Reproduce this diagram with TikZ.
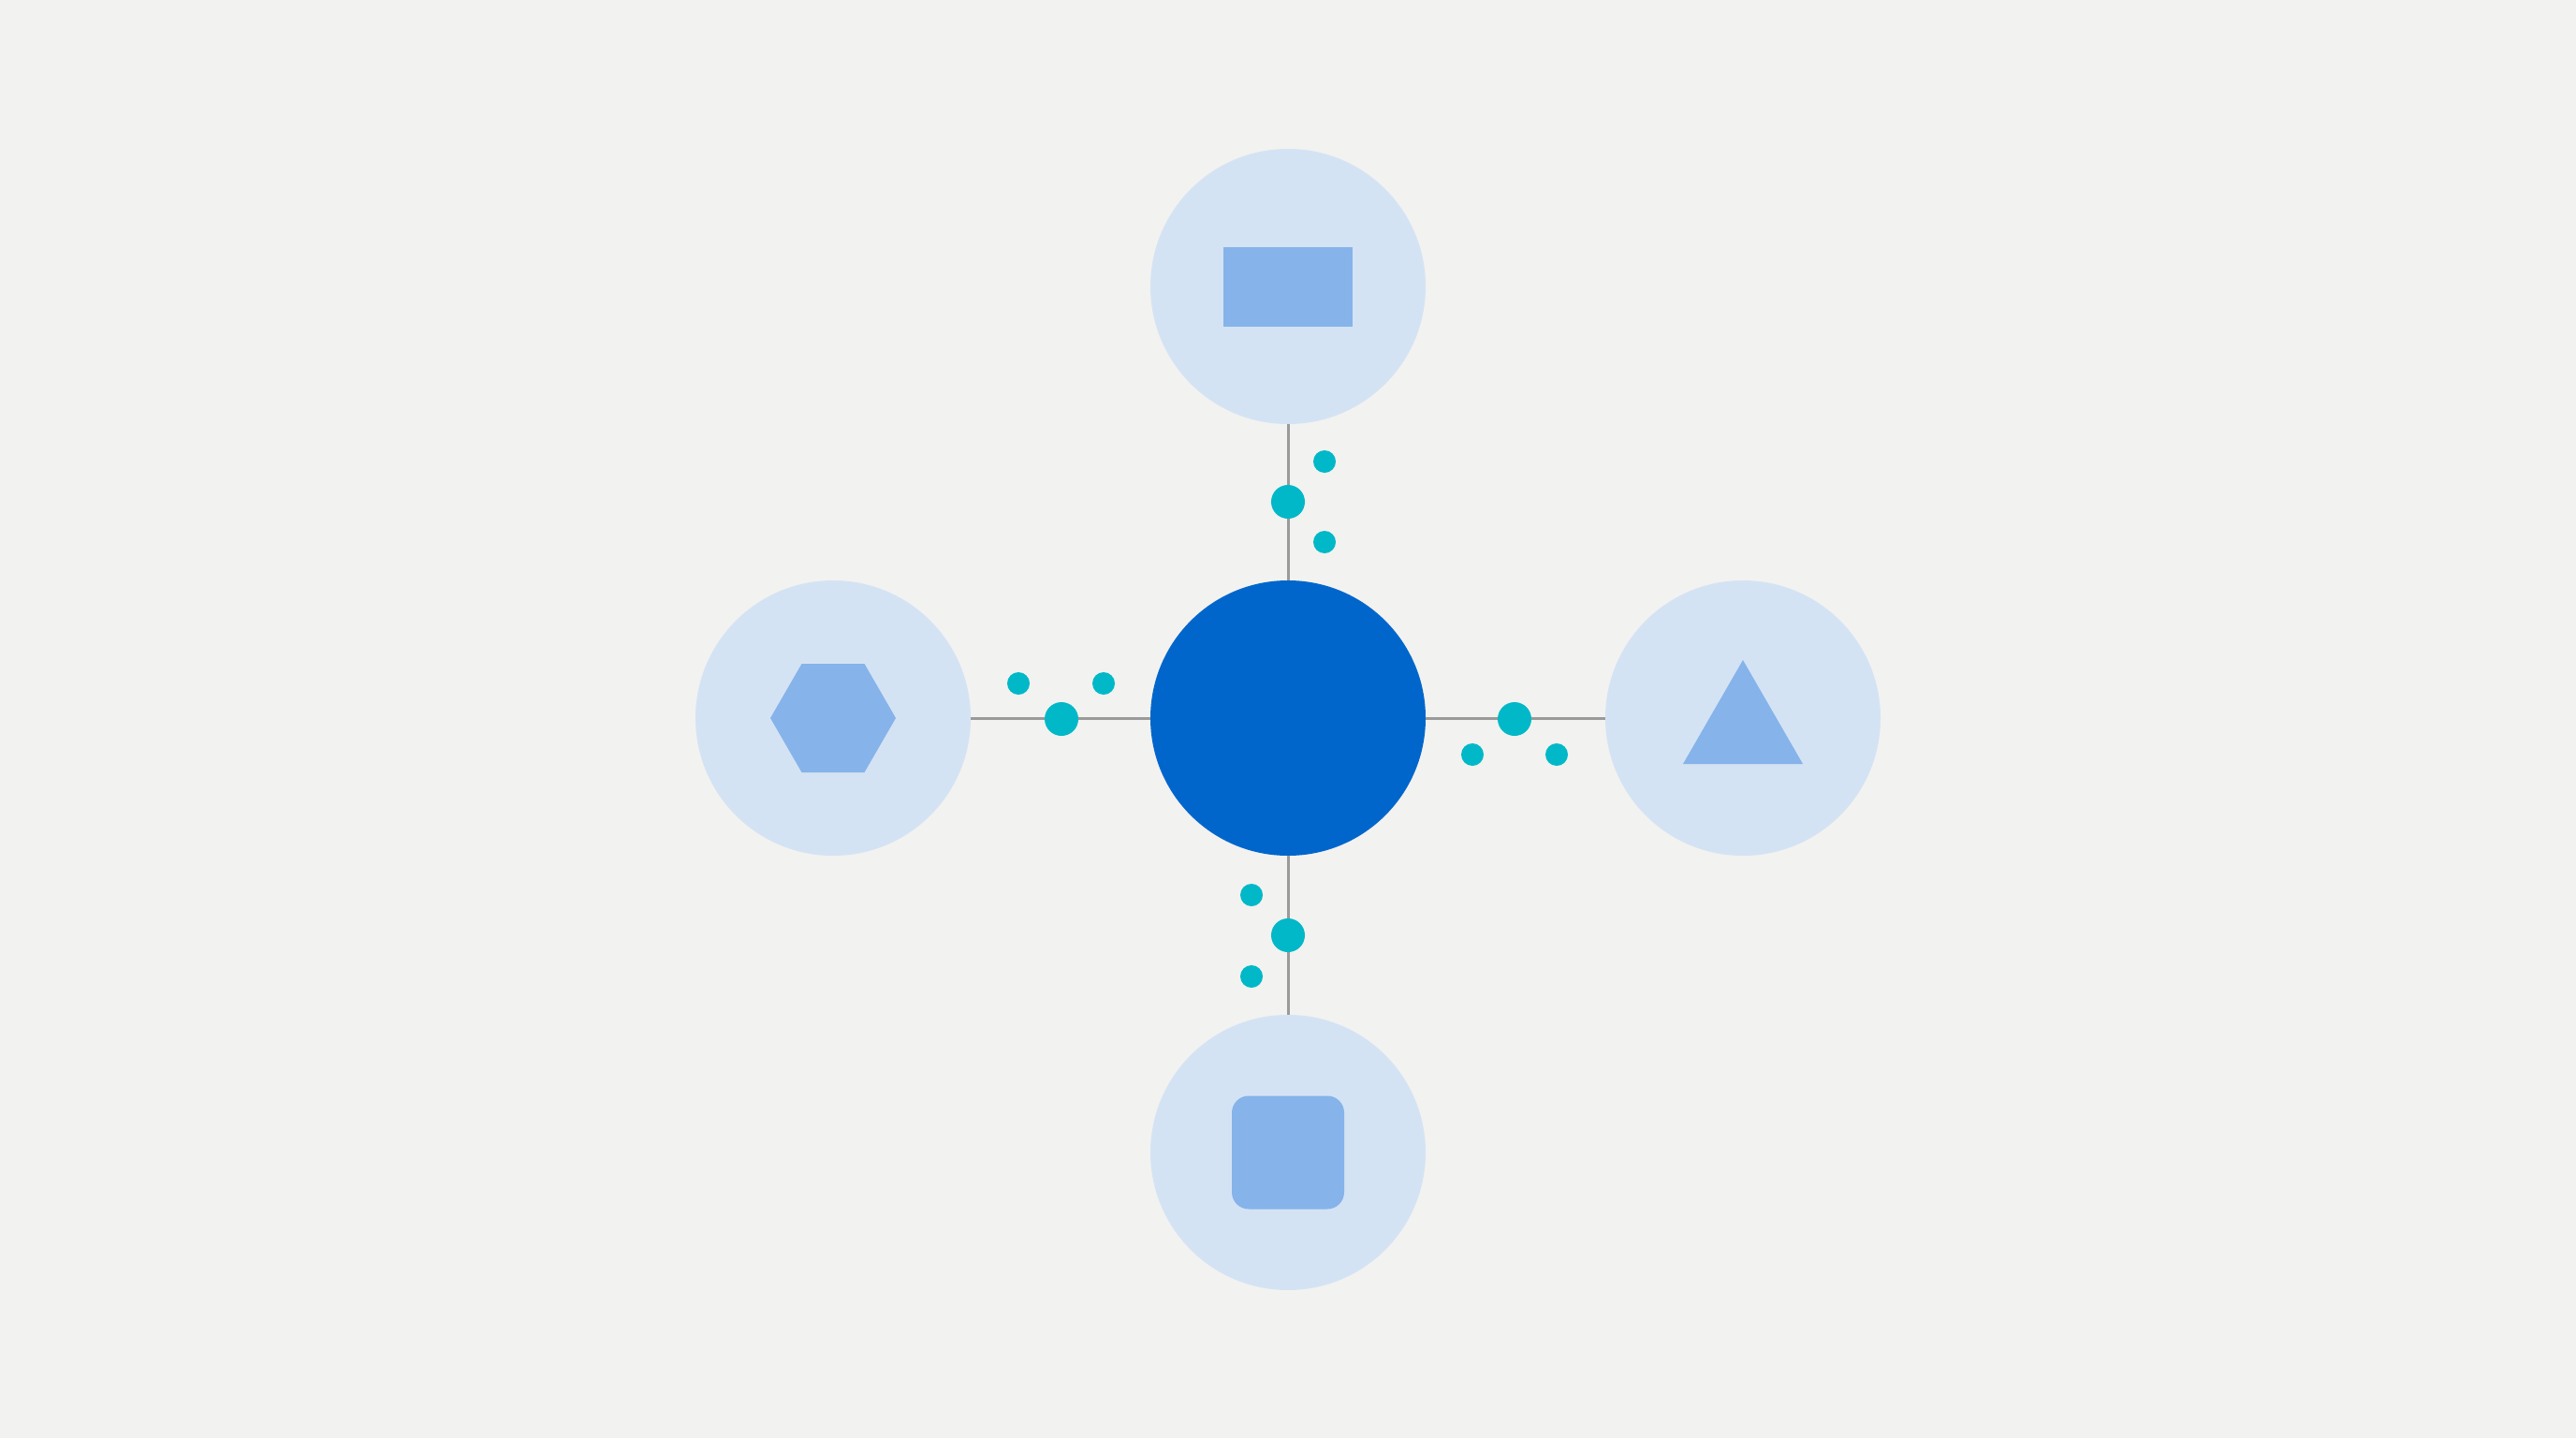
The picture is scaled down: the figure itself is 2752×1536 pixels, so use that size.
\documentclass[tikz,border=0pt]{standalone}
\usetikzlibrary{shapes.geometric}
\definecolor{bg}{HTML}{F2F2F0}
\definecolor{satfill}{HTML}{D4E3F4}
\definecolor{iconfill}{HTML}{86B3EA}
\definecolor{hubfill}{HTML}{0066CC}
\definecolor{dotfill}{HTML}{00B8C8}
\definecolor{linecol}{HTML}{9A9A9A}
\tikzset{
  hub/.style={circle, fill=hubfill, draw=none, minimum size=294pt, inner sep=0pt},
  sat/.style={circle, fill=satfill, draw=none, minimum size=294pt, inner sep=0pt},
  icon/.style={fill=iconfill, draw=none, inner sep=0pt},
  bigdot/.style={circle, fill=dotfill, draw=none, minimum size=36pt, inner sep=0pt},
  smalldot/.style={circle, fill=dotfill, draw=none, minimum size=24pt, inner sep=0pt},
  conn/.style={draw=linecol, line width=3pt}
}
\begin{document}
\begin{tikzpicture}[x=1pt,y=-1pt]
\fill[bg] (0,0) rectangle (2752,1536);
\useasboundingbox (0,0) rectangle (2752,1536);

% hub and satellites
\node[hub] (c) at (1376,767) {};
\node[sat] (t) at (1376,306) {};
\node[sat] (b) at (1376,1231) {};
\node[sat] (l) at (890,767) {};
\node[sat] (r) at (1862,767) {};

% connectors
\draw[conn] (t) -- (c);
\draw[conn] (c) -- (b);
\draw[conn] (l) -- (c);
\draw[conn] (c) -- (r);

% icons
\node[icon, rectangle, minimum width=138pt, minimum height=85pt] (ti) at (1376,306) {};
\node[icon, rectangle, rounded corners=18pt, minimum width=120pt, minimum height=121pt] (bi) at (1376,1231) {};
\fill[iconfill] (957,767) -- (923.5,709) -- (856.5,709) -- (823,767) -- (856.5,825) -- (923.5,825) -- cycle;
\fill[iconfill] (1862,705) -- (1926,816) -- (1798,816) -- cycle;

% dots
\node[bigdot] (dt) at (1376,536) {};
\node[smalldot] (dt1) at (1415,493) {};
\node[smalldot] (dt2) at (1415,579) {};

\node[bigdot] (db) at (1376,999) {};
\node[smalldot] (db1) at (1337,956) {};
\node[smalldot] (db2) at (1337,1043) {};

\node[bigdot] (dl) at (1134,768) {};
\node[smalldot] (dl1) at (1088,730) {};
\node[smalldot] (dl2) at (1179,730) {};

\node[bigdot] (dr) at (1618,768) {};
\node[smalldot] (dr1) at (1573,806) {};
\node[smalldot] (dr2) at (1663,806) {};
\end{tikzpicture}
\end{document}
